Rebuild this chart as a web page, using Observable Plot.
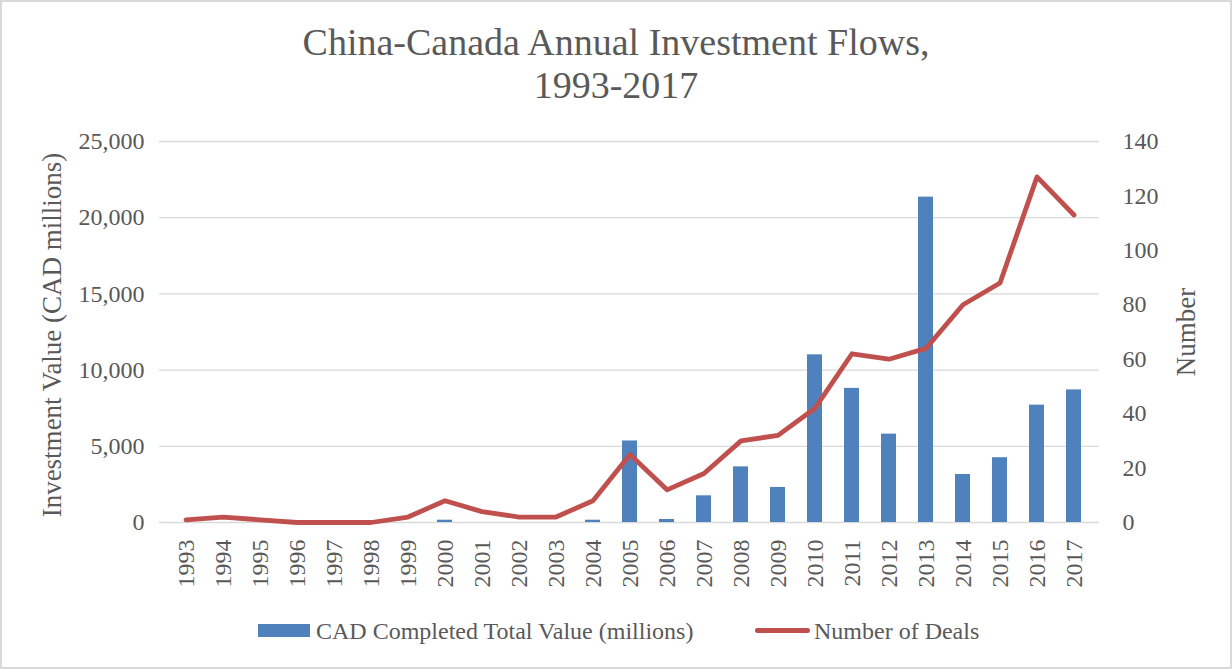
<!DOCTYPE html>
<html>
<head>
<meta charset="utf-8">
<script src="https://cdn.jsdelivr.net/npm/d3@7"></script>
<script src="https://cdn.jsdelivr.net/npm/@observablehq/plot@0.6"></script>
<style>
  body { margin: 0; background: #fff; }
  #chart { position: relative; width: 1232px; height: 669px; overflow: hidden; background: #fff;
           font-family: "Liberation Serif", serif; color: #595959; }
  #frame { position: absolute; left: 0; top: 0; width: 1232px; height: 669px; box-sizing: border-box;
           border: 2px solid #d9d9d9; pointer-events: none; }
  #title { position: absolute; left: 0; top: 21px; width: 1232px; text-align: center;
           font-size: 38px; line-height: 43px; }
  #plot { position: absolute; left: 0; top: 112px; }
  .legtxt { position: absolute; top: 619px; font-size: 24px; line-height: 24px; white-space: nowrap; }
  .swatch { position: absolute; }
</style>
</head>
<body>
<div id="chart">
  <div id="title">China-Canada Annual Investment Flows,<br>1993-2017</div>
  <div id="plot"></div>
  <div class="swatch" style="left:258px;top:624px;width:52px;height:13px;background:#4f81bd"></div>
  <div class="legtxt" style="left:316px">CAD Completed Total Value (millions)</div>
  <div class="swatch" style="left:755px;top:628px;width:55px;height:4.5px;border-radius:2.25px;background:#c0504d"></div>
  <div class="legtxt" style="left:814px">Number of Deals</div>
  <div id="frame"></div>
</div>
<script>
const years = ["1993","1994","1995","1996","1997","1998","1999","2000","2001","2002","2003","2004",
               "2005","2006","2007","2008","2009","2010","2011","2012","2013","2014","2015","2016","2017"];
const values = [0,0,0,0,0,0,0,150,0,0,0,150,5350,200,1750,3650,2300,11000,8800,5800,21350,3150,4250,7700,8700];
const deals = [1,2,1,0,0,0,2,8,4,2,2,8,25,12,18,30,32,42,62,60,64,80,88,127,113];
const valueTicks = [0,5000,10000,15000,20000,25000];
const dealTicks = [0,20,40,60,80,100,120,140];

const valueMax = 25000, dealMax = 140;
const ratio = valueMax / dealMax;
const table = years.map((year, i) => ({year, value: values[i], deals: deals[i]}));
const textColor = "#595959";

const chart = Plot.plot({
  width: 1232,
  height: 488,
  marginTop: 29,
  marginBottom: 78,
  marginLeft: 159,
  marginRight: 133,
  style: {fontFamily: "Liberation Serif, serif", fontSize: "24px", color: textColor, background: "transparent", overflow: "visible"},
  x: {type: "band", domain: years, paddingInner: 0.6, paddingOuter: 0.3, axis: null},
  y: {domain: [0, valueMax], axis: null},
  marks: [
    Plot.gridY(valueTicks, {stroke: "#d9d9d9", strokeOpacity: 1, strokeWidth: 1.3}),
    Plot.barY(table, {x: "year", y: "value", fill: "#4f81bd"}),
    Plot.line(table, {x: "year", y: d => d.deals * ratio, stroke: "#c0504d", strokeWidth: 4.8,
                      strokeLinecap: "round", strokeLinejoin: "round"}),
    Plot.axisY(valueTicks, {anchor: "left", tickSize: 0, tickPadding: 15, tickFormat: d3.format(","),
                            fill: textColor, fontSize: 24, label: null}),
    Plot.axisY(dealTicks.map(d => d * ratio), {anchor: "right", tickSize: 0, tickPadding: 23,
                            tickFormat: d => String(Math.round(d / ratio)), fill: textColor, fontSize: 24, label: null}),
    Plot.axisX(years, {anchor: "bottom", tickSize: 0, tickPadding: 17, tickRotate: -90,
                       fill: textColor, fontSize: 24, label: null}),
    Plot.text(["Investment Value (CAD millions)"], {frameAnchor: "left", textAnchor: "middle", dx: -107, dy: 3, rotate: -90,
                       fill: textColor, fontSize: 27, text: d => d}),
    Plot.text(["Number"], {frameAnchor: "right", textAnchor: "middle", dx: 87, rotate: -90,
                       fill: textColor, fontSize: 27, text: d => d})
  ]
});
document.getElementById("plot").appendChild(chart);
</script>
</body>
</html>
